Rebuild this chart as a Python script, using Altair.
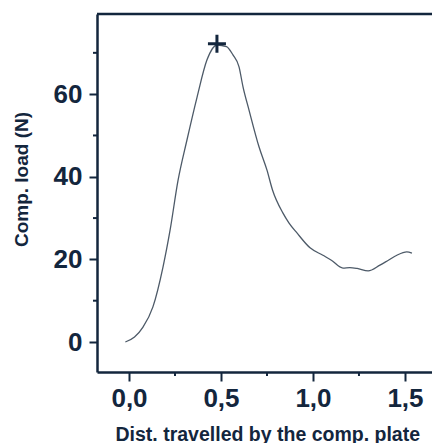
import altair as alt
import pandas as pd

# Curve
dist = [-0.02, 0.03, 0.076, 0.13, 0.185, 0.223, 0.266, 0.315, 0.37, 0.424, 0.478,
        0.53, 0.565, 0.598, 0.62, 0.652, 0.707, 0.75, 0.78, 0.837, 0.87, 0.913,
        0.984, 1.054, 1.10, 1.163, 1.20, 1.24, 1.30, 1.364, 1.41, 1.456, 1.51, 1.538]
load = [0.0, 1.2, 3.6, 8.5, 18.2, 27.0, 39.0, 48.9, 59.3, 68.3, 71.9,
        71.5, 69.5, 66.6, 61.7, 56.2, 47.2, 41.6, 36.8, 31.2, 28.8, 26.4,
        22.8, 21.0, 19.8, 17.9, 18.0, 17.8, 17.2, 18.6, 19.8, 21.0, 21.8, 21.5]

peak_x = [0.478]
peak_y = [72.2]

y_major = [0, 20, 40, 60]
y_minor = [10, 30, 50, 70]
x_major = [0.0, 0.5, 1.0, 1.5]
x_minor = [0.25, 0.75, 1.25]

W, H = 335, 358
DARK = "#13263d"
FONT = "Liberation Sans"

curve = pd.DataFrame({"x": dist, "y": load})
peak = pd.DataFrame({"x": peak_x, "y": peak_y})
ymin = pd.DataFrame({"y": y_minor})
xmin = pd.DataFrame({"x": x_minor})

xscale = alt.Scale(domain=[-0.174, 1.647], nice=False, zero=False)
yscale = alt.Scale(domain=[-7.26, 79.4], nice=False, zero=False)

xaxis = alt.Axis(values=x_major, labelExpr="replace(format(datum.value, '.1f'), '.', ',')",
                 title="Dist. travelled by the comp. plate", titleAnchor="start",
                 titleX=18, titleY=68, titleBaseline="alphabetic", titleAlign="left",
                 titleFontSize=19.5, titleFont=FONT, titleFontWeight="bold", titleColor=DARK,
                 labelFontSize=26, labelFont=FONT, labelFontWeight="bold", labelColor=DARK,
                 labelPadding=4, tickSize=9, tickWidth=2, tickColor=DARK,
                 domainColor=DARK, domainWidth=2.5, grid=False, labelFlush=False)
yaxis = alt.Axis(values=y_major, format="d",
                 title="Comp. load (N)", titleX=-70, titleY=165, titleAngle=-90,
                 titleAlign="center", titleBaseline="alphabetic",
                 titleFontSize=19, titleFont=FONT, titleFontWeight="bold", titleColor=DARK,
                 labelFontSize=26, labelFont=FONT, labelFontWeight="bold", labelColor=DARK,
                 labelPadding=7, tickSize=8, tickWidth=2, tickColor=DARK,
                 domainColor=DARK, domainWidth=2.5, grid=False, labelFlush=False)

line = alt.Chart(curve).mark_line(color="#4d5a68", strokeWidth=1.3, interpolate="monotone").encode(
    x=alt.X("x:Q", scale=xscale, axis=xaxis),
    y=alt.Y("y:Q", scale=yscale, axis=yaxis),
)

cross = alt.Chart(peak).mark_point(shape="M-1,0L1,0M0,-1L0,1", size=324, filled=False,
                                   strokeWidth=3, color=DARK, opacity=1).encode(
    x=alt.X("x:Q", scale=xscale), y=alt.Y("y:Q", scale=yscale))

yminor = alt.Chart(ymin).mark_rule(color=DARK, strokeWidth=2).encode(
    y=alt.Y("y:Q", scale=yscale), x=alt.value(-4), x2=alt.value(0))
xminor = alt.Chart(xmin).mark_rule(color=DARK, strokeWidth=2).encode(
    x=alt.X("x:Q", scale=xscale), y=alt.value(H), y2=alt.value(H + 4))

top = alt.Chart(peak).mark_rule(color=DARK, strokeWidth=2.5).encode(
    x=alt.value(0), x2=alt.value(W), y=alt.value(0))

chart = alt.layer(line, cross, yminor, xminor, top).properties(
    width=W, height=H,
    autosize=alt.AutoSizeParams(type="none"),
    padding={"left": 97, "top": 14, "right": 0, "bottom": 71},
    background="white",
).configure_view(stroke=None)

chart.save("out.html", embed_options={"renderer": "svg", "actions": False})
